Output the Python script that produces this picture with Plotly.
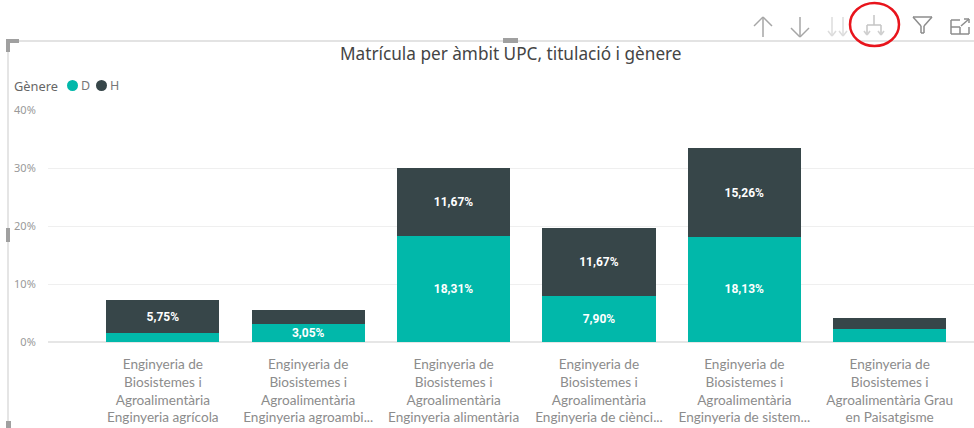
import plotly.graph_objects as go

W, H = 974, 428

categories = [
    "Enginyeria de<br>Biosistemes i<br>Agroalimentària<br>Enginyeria agrícola",
    "Enginyeria de<br>Biosistemes i<br>Agroalimentària<br>Enginyeria agroambi...",
    "Enginyeria de<br>Biosistemes i<br>Agroalimentària<br>Enginyeria alimentària",
    "Enginyeria de<br>Biosistemes i<br>Agroalimentària<br>Enginyeria de ciènci...",
    "Enginyeria de<br>Biosistemes i<br>Agroalimentària<br>Enginyeria de sistem...",
    "Enginyeria de<br>Biosistemes i<br>Agroalimentària Grau<br>en Paisatgisme",
]
values_d = [1.5, 3.05, 18.31, 7.90, 18.13, 2.3]
values_h = [5.75, 2.45, 11.67, 11.67, 15.26, 1.8]
labels_d = ["", "3,05%", "18,31%", "7,90%", "18,13%", ""]
labels_h = ["5,75%", "", "11,67%", "11,67%", "15,26%", ""]
y_ticks = [0, 10, 20, 30, 40]
y_labels = ["0%", "10%", "20%", "30%", "40%"]

TEAL = "#01B8AA"
DARK = "#374649"
GREY = "#a6a6a6"


def X(p):
    return p / W


def Y(p):
    return 1 - p / H


def line(x0, y0, x1, y1, color="#a6a6a6", width=1.5):
    return dict(type="line", xref="paper", yref="paper", x0=X(x0), y0=Y(y0), x1=X(x1), y1=Y(y1),
                line=dict(color=color, width=width), layer="above")


def rect(x0, y0, x1, y1, color):
    return dict(type="rect", xref="paper", yref="paper", x0=X(x0), y0=Y(y0), x1=X(x1), y1=Y(y1),
                fillcolor=color, line=dict(width=0), layer="above")


def circle(x0, y0, x1, y1, fill=None, stroke=None, width=0):
    return dict(type="circle", xref="paper", yref="paper", x0=X(x0), y0=Y(y0), x1=X(x1), y1=Y(y1),
                fillcolor=fill if fill else "rgba(0,0,0,0)",
                line=dict(color=stroke if stroke else "rgba(0,0,0,0)", width=width), layer="above")


fig = go.Figure()
for name, vals, labs, col in [("D", values_d, labels_d, TEAL), ("H", values_h, labels_h, DARK)]:
    fig.add_trace(go.Bar(
        name=name, x=categories, y=vals, text=labs, marker=dict(color=col, line=dict(width=0)),
        textposition="inside", insidetextanchor="middle", textangle=0, constraintext="none",
        textfont=dict(family="Roboto", size=12, color="white", weight="bold"),
        showlegend=False,
    ))

shapes = [
    # visual frame and handles
    line(8, 41, 974, 41, "#e3e3e3", 2),
    line(8, 41, 8, 428, "#dcdcdc", 1.5),
    rect(6, 39, 19, 43, "#a0a0a0"),
    rect(6, 39, 10, 52, "#a0a0a0"),
    rect(503, 38, 518, 43, "#a0a0a0"),
    rect(6, 228, 10, 242, "#a0a0a0"),
    rect(6, 421, 11, 428, "#a0a0a0"),
    # up arrow
    line(763, 17, 763, 37), line(754, 26, 763, 17), line(772, 26, 763, 17),
    # down arrow
    line(800, 17, 800, 37), line(791, 28, 800, 37), line(809, 28, 800, 37),
    # double-down arrows
    line(832, 17, 832, 36, "#dcdcdc"), line(828, 31, 832, 36, "#dcdcdc"), line(836, 31, 832, 36, "#dcdcdc"),
    line(843, 17, 843, 36, "#dcdcdc"), line(839, 31, 843, 36, "#dcdcdc"), line(847, 31, 843, 36, "#dcdcdc"),
    # fork arrows
    line(874, 15, 874, 25, "#c4c4c4"), line(867, 25, 881, 25, "#c4c4c4"),
    line(867, 25, 867, 35, "#c4c4c4"), line(881, 25, 881, 35, "#c4c4c4"),
    line(864, 31, 867, 35, "#d0d0d0"), line(870, 31, 867, 35, "#d0d0d0"),
    line(878, 31, 881, 35, "#d0d0d0"), line(884, 31, 881, 35, "#d0d0d0"),
    # funnel
    line(913, 17, 932, 17, "#8c8c8c"), line(913, 17, 921, 26, "#8c8c8c"), line(932, 17, 924, 26, "#8c8c8c"),
    line(921, 26, 921, 33, "#8c8c8c"), line(924, 26, 924, 33, "#8c8c8c"), line(921, 33, 924, 33, "#8c8c8c"),
    # focus mode
    line(951, 20, 951, 34, "#8c8c8c"), line(951, 34, 969, 34, "#8c8c8c"), line(969, 34, 969, 27, "#8c8c8c"),
    line(951, 20, 960, 20, "#8c8c8c"), line(951, 27, 960, 27, "#8c8c8c"), line(960, 27, 960, 34, "#8c8c8c"),
    line(961, 26, 969, 19, "#8c8c8c"), line(964, 19, 969, 19, "#8c8c8c"), line(969, 19, 969, 23, "#8c8c8c"),
    # red highlight
    circle(850, 3, 899, 46, stroke="#e8141c", width=2.5),
    # legend dots
    circle(67, 80, 78, 91, fill=TEAL),
    circle(96, 80, 107, 91, fill=DARK),
]

annotations = [
    dict(text="Matrícula per àmbit UPC, titulació i gènere", xref="paper", yref="paper", x=X(510.5), y=Y(54),
         showarrow=False, xanchor="center", yanchor="middle",
         font=dict(family="Noto Sans", size=17.2, color="#444444")),
    dict(text="Gènere", xref="paper", yref="paper", x=X(12), y=Y(85.5), showarrow=False,
         xanchor="left", yanchor="middle", font=dict(family="Noto Sans", size=12.8, color="#666666")),
    dict(text="D", xref="paper", yref="paper", x=X(79), y=Y(85.5), showarrow=False,
         xanchor="left", yanchor="middle", font=dict(family="Noto Sans", size=12.5, color="#777777")),
    dict(text="H", xref="paper", yref="paper", x=X(108), y=Y(85.5), showarrow=False,
         xanchor="left", yanchor="middle", font=dict(family="Noto Sans", size=12.5, color="#777777")),
]

fig.update_layout(
    width=W, height=H, margin=dict(l=0, r=0, t=0, b=0),
    paper_bgcolor="white", plot_bgcolor="white",
    barmode="stack", bargap=0.222, showlegend=False,
    shapes=shapes, annotations=annotations,
    xaxis=dict(domain=[X(48), 1], range=[-0.79, 5.58], showgrid=False, zeroline=False, showline=False,
               ticks="outside", ticklen=10, tickcolor="rgba(0,0,0,0)", type="category",
               tickangle=0, automargin=False,
               tickfont=dict(family="Lato", size=13.6, color="#8c8c8c")),
    yaxis=dict(domain=[Y(342), Y(110)], range=[0, 40], tickvals=y_ticks, ticktext=y_labels,
               showgrid=True, gridcolor="#efefef", gridwidth=1, zeroline=True, zerolinecolor="#e6e6e6",
               showline=False, ticks="outside", ticklen=9, tickcolor="rgba(0,0,0,0)", automargin=False,
               tickfont=dict(family="Noto Sans", size=11, color="#999999")),
)

fig.write_html("out.html", config=dict(displayModeBar=False), post_script="document.body.style.margin='0';")
